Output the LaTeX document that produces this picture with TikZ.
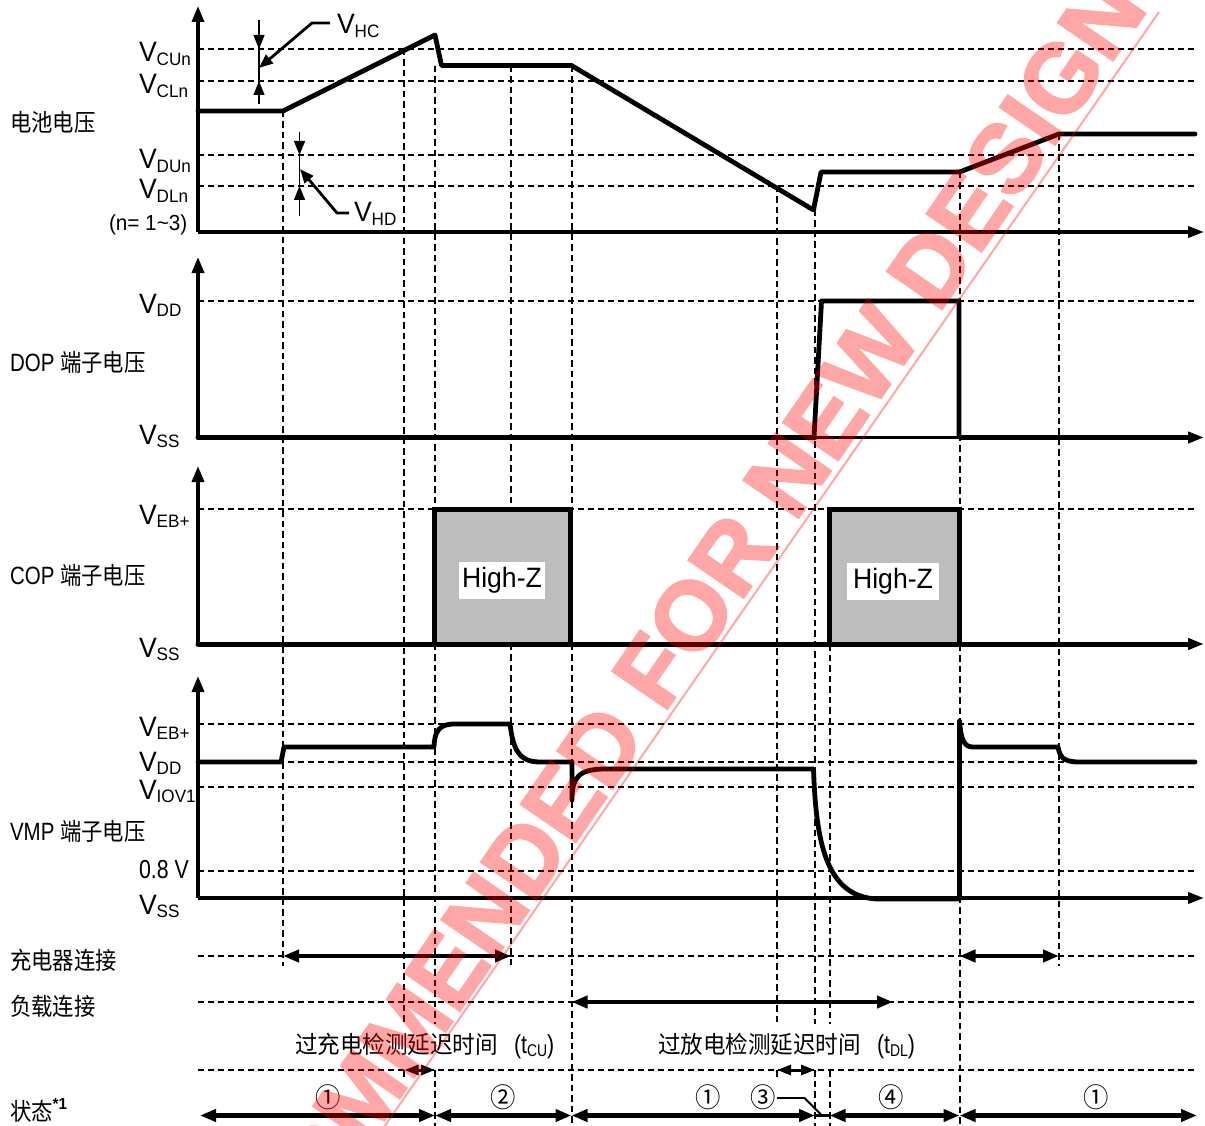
\documentclass[tikz,border=0pt]{standalone}
\usepackage{fontspec}
\usetikzlibrary{arrows.meta}
\setmainfont{Liberation Sans}
\newfontfamily\ar[FakeStretch=.95]{Liberation Sans}
\newfontfamily\arc[FakeStretch=.82]{Liberation Sans}
\newfontfamily\cj[FakeStretch=.89]{Noto Sans CJK SC}
\newfontfamily\cjw[FakeStretch=.94]{Noto Sans CJK SC}
\newfontfamily\wmf[FakeBold=2.2]{Liberation Sans Bold}
\newcommand{\Vs}[1]{{\fontsize{28}{28}\ar\selectfont V}{\fontsize{18}{18}\ar\selectfont\raisebox{-3.5pt}{#1}}}
\newcommand{\Cn}[1]{{\fontsize{24}{24}\cj\selectfont #1}}
\newcommand{\Cw}[1]{{\fontsize{24}{24}\cjw\selectfont #1}}
\newcommand{\Ln}[1]{{\fontsize{25}{25}\arc\selectfont #1}}
\tikzset{
  lab/.style={inner sep=0pt,outer sep=0pt,anchor=base west,text=black},
  hd/.style={line width=2pt,dash pattern=on 6pt off 4pt},
  vd/.style={line width=2pt,dash pattern=on 6.5pt off 4pt},
  wave/.style={line width=4.8pt,line join=round,line cap=round},
  axisv/.style={line width=3.5pt,-{Triangle[length=16pt,width=12pt]}},
  axish/.style={line width=3.5pt,-{Triangle[length=16pt,width=11pt]}},
  span/.style={line width=4.6pt,{Triangle[length=16pt,width=12pt]}-{Triangle[length=16pt,width=12pt]}},
  minispan/.style={line width=3pt,{Triangle[length=14pt,width=10pt]}-{Triangle[length=14pt,width=10pt]}},
  tick/.style={line width=1.2pt},
  tipd/.style={-{Triangle[length=14pt,width=11pt]}},
  leader/.style={line width=2.8pt,line join=round,-{Triangle[length=14pt,width=11pt]}},
  hiz/.style={line width=5pt,fill=black!26,line join=miter},
  hizlab/.style={fill=white,inner sep=0pt,minimum width=86pt,minimum height=37pt,font=\fontsize{28}{28}\ar\selectfont},
  circ/.style={inner sep=0pt,font=\fontsize{27}{27}\cjw\selectfont}
}
\begin{document}
\begin{tikzpicture}[x=1pt,y=-1pt]
\useasboundingbox (0,0) rectangle (1205,1126);
% horizontal dashed levels
\foreach \y in {49,81,155,186,301,509,724,762,787,871,956,1002,1070}
  \draw[hd] (198,\y) -- (1195,\y);
% vertical dashed lines
\draw[vd] (283,111) -- (283,966);
\draw[vd] (404,49) -- (404,1024) (404,1070) -- (404,1080);
\draw[vd] (435,66) -- (435,1024) (435,1070) -- (435,1126);
\draw[vd] (511,66) -- (511,966);
\draw[vd] (572,66) -- (572,1126);
\draw[vd] (777,186) -- (777,1024) (777,1070) -- (777,1080);
\draw[vd] (815,210) -- (815,1024) (815,1070) -- (815,1126);
\draw[vd] (830,644) -- (830,1024) (830,1070) -- (830,1126);
\draw[vd] (960,172) -- (960,1126);
\draw[vd] (1059,134) -- (1059,966);
% High-Z regions
\draw[hiz] (434,644) -- (434,509.5) -- (570.5,509.5) -- (570.5,644);
\draw[hiz] (829.5,644) -- (829.5,509.5) -- (959.5,509.5) -- (959.5,644);
\node[hizlab] (hz1) at (502,580.5) {High-Z};
\node[hizlab,minimum width=92pt] (hz2) at (893,581.5) {High-Z};
% axes
\draw[axisv] (198,232) -- (198,6);
\draw[axisv] (198,437.5) -- (198,257);
\draw[axisv] (198,644) -- (198,466);
\draw[axisv] (198,898) -- (198,676);
\draw[axish] (198,232) -- (1204,232);
\draw[line width=5pt,line cap=round] (198,437.5) -- (815,437.5);
\draw[line width=3.5pt] (815,437.5) -- (959,437.5);
\draw[line width=5pt,-{Triangle[length=16pt,width=11pt]}] (959,437.5) -- (1204,437.5);
\draw[line width=5pt,line cap=round,-{Triangle[length=16pt,width=11pt]}] (198,644) -- (1204,644);
\draw[axish] (198,898) -- (1204,898);
% battery voltage
\draw[wave] (198,111) -- (283,111) -- (435,35) -- (441.5,65.5) -- (571.5,65.5) -- (813.5,210) -- (821,172) -- (959.5,172) -- (1059,134) -- (1195,134);
% DOP
\draw[wave,line cap=butt] (814,437.5) -- (821.5,301) -- (959,301) -- (959,437.5);
% VMP
\draw[wave] (198,762) -- (281,762) -- (284,747) -- (434,747)
  .. controls (434.5,730) and (440,724) .. (455,724) -- (510,724)
  .. controls (513,748) and (518,762) .. (540,762) -- (572,762) -- (572,800)
  .. controls (572,778) and (578,769) .. (605,769) -- (813.5,769)
  .. controls (816,840) and (825,899) .. (880,899) -- (959.5,899) -- (959.5,721)
  .. controls (961,740) and (964,747) .. (973,747) -- (1058,747)
  .. controls (1060,758) and (1064,762) .. (1080,762) -- (1195,762);
% VHC / VHD brackets
\draw[tick] (259,20) -- (259,104);
\draw[tick,tipd] (259,34) -- (259,49);
\draw[tick,tipd] (259,96) -- (259,81);
\draw[leader] (330,23) -- (312,23) -- (259,68);
\draw[tick] (299.5,132) -- (299.5,216);
\draw[tick,tipd] (299.5,141) -- (299.5,155);
\draw[tick,tipd] (299.5,200) -- (299.5,186);
\draw[leader] (349,213) -- (337,213) -- (300,169);
% charger / load / state spans
\draw[span] (283,956) -- (511,956);
\draw[span] (959.5,956) -- (1059,956);
\draw[span] (571.5,1002) -- (893,1002);
\draw[minispan] (404.5,1070) -- (435,1070);
\draw[minispan] (777,1070) -- (815,1070);
\draw[span] (200,1115.5) -- (435,1115.5);
\draw[span] (435,1115.5) -- (571.5,1115.5);
\draw[span] (571.5,1115.5) -- (815,1115.5);
\draw[line width=3.5pt] (815,1115.5) -- (829.5,1115.5);
\draw[span] (829.5,1115.5) -- (959.5,1115.5);
\draw[span] (959.5,1115.5) -- (1197,1115.5);
\draw[line width=1.8pt] (777,1098) -- (804.5,1098) -- (822,1115.5);
% level labels
\node[lab] (vcu) at (139,62) {\Vs{CUn}};
\node[lab] (vcl) at (139,94) {\Vs{CLn}};
\node[lab] (vdu) at (139,169) {\Vs{DUn}};
\node[lab] (vdl) at (139,199) {\Vs{DLn}};
\node[lab] (nn) at (109,231) {{\fontsize{21.8}{22}\ar\selectfont (n= 1\textasciitilde 3)}};
\node[lab] (vhc) at (337,34) {\Vs{HC}};
\node[lab] (vhd) at (354,222) {\Vs{HD}};
\node[lab] (vdd1) at (139,313) {\Vs{DD}};
\node[lab] (vss1) at (139,444) {\Vs{SS}};
\node[lab] (veb1) at (139,524) {\Vs{EB+}};
\node[lab] (vss2) at (139,657) {\Vs{SS}};
\node[lab] (veb2) at (139,736) {\Vs{EB+}};
\node[lab] (vdd2) at (139,771) {\Vs{DD}};
\node[lab] (viov) at (139,799) {\Vs{IOV1}};
\node[lab] (v08) at (139,878) {{\fontsize{26}{26}\arc\selectfont 0.8 V}};
\node[lab] (vss3) at (139,914) {\Vs{SS}};
% signal names
\node[lab] (s1) at (10,132) {\Cn{电池电压}};
\node[lab] (s2) at (10,371) {\Ln{DOP }\Cn{端子电压}};
\node[lab] (s3) at (10,584) {\Ln{COP }\Cn{端子电压}};
\node[lab] (s4) at (10,840) {\Ln{VMP }\Cn{端子电压}};
\node[lab] (s5) at (10,969) {\Cn{充电器连接}};
\node[lab] (s6) at (10,1015) {\Cn{负载连接}};
\node[lab] (s7) at (10,1120) {\Cn{状态}{\fontsize{16}{16}\ar\bfseries\selectfont\raisebox{11pt}{*1}}};
% delay labels
\node[lab] (tcu) at (295,1053) {\Cw{过充电检测延迟时间}\hspace{16pt}{\fontsize{26}{26}\arc\selectfont (t}{\fontsize{17}{17}\arc\selectfont\raisebox{-3pt}{CU}}{\fontsize{26}{26}\arc\selectfont )}};
\node[lab] (tdl) at (658,1053) {\Cw{过放电检测延迟时间}\hspace{16pt}{\fontsize{26}{26}\arc\selectfont (t}{\fontsize{17}{17}\arc\selectfont\raisebox{-3pt}{DL}}{\fontsize{26}{26}\arc\selectfont )}};
% state numbers
\node[circ] (c1) at (328,1097) {①};
\node[circ] (c2) at (503,1097) {②};
\node[circ] (c3) at (708,1097) {①};
\node[circ] (c4) at (763,1097) {③};
\node[circ] (c5) at (891,1097) {④};
\node[circ] (c6) at (1096,1097) {①};
% watermark
\begin{scope}
\clip (0,0) rectangle (1205,1126);
\begin{scope}[transparency group,opacity=.35]
\node[inner sep=0pt,outer sep=0pt,anchor=base east,rotate=55.5,text=red,font=\fontsize{97}{97}\wmf\selectfont] (wmk) at (1149,8) {OMMENDED FOR NEW DESIGN};
\draw[red,line width=2pt] (1159,12) -- (375,1140);
\end{scope}
\end{scope}
\end{tikzpicture}
\end{document}
